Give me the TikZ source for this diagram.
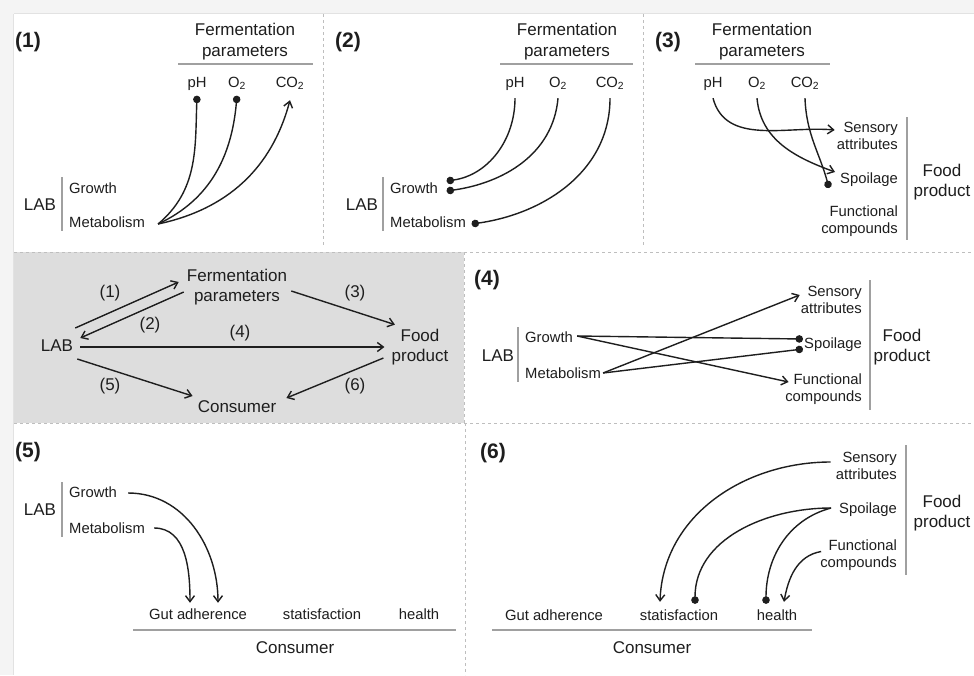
\documentclass[tikz,border=0pt]{standalone}
\usepackage{fontspec}
\setmainfont{Liberation Sans}
\usepackage{xcolor}
\usetikzlibrary{arrows.meta,positioning,calc}

\definecolor{outergray}{RGB}{244,244,244}
\definecolor{edgegray}{RGB}{226,226,226}
\definecolor{panelgray}{RGB}{221,221,221}
\definecolor{dashgray}{RGB}{190,190,190}
\definecolor{rulegray}{RGB}{160,160,160}
\definecolor{inkgray}{RGB}{30,30,30}

\newcommand{\bigtxt}{\fontsize{17}{20.5}\selectfont}
\newcommand{\smalltxt}{\fontsize{14.8}{17}\selectfont}

\begin{document}
\begin{tikzpicture}[
        x=1pt, y=-1pt,
        panelnum/.style={font=\bfseries\fontsize{21}{24}\selectfont, text=inkgray, inner sep=1pt},
        group/.style={font=\bigtxt, text=inkgray, align=center, inner sep=1pt},
        item/.style={font=\smalltxt, text=inkgray, inner sep=1pt},
        param/.style={font=\smalltxt, text=inkgray, inner sep=1pt, text height=11pt, text depth=3pt},
        arrow/.style={draw=inkgray, -{Straight Barb[length=6pt,width=9pt]}, line width=1.4pt},
        dotarrow/.style={draw=inkgray, -{Circle[length=7.5pt]}, line width=1.4pt},
        rulebar/.style={draw=rulegray, line width=1.8pt},
        divider/.style={draw=dashgray, dashed, line width=0.9pt}
    ]
    \useasboundingbox (0,0) rectangle (974,675);

    % Frame and panel dividers
    \fill [outergray] (0,0) rectangle (974,675);
    \fill [white] (14,14) rectangle (974,675);
    \draw [edgegray] (13.5,14) -- (13.5,675);
    \draw [edgegray] (14,13.5) -- (974,13.5);
    \fill [panelgray] (14,252) rectangle (464,423);
    \path [divider] (323,14) -- (323,247);
    \path [divider] (643,14) -- (643,247);
    \path [divider] (14,252) -- (974,252);
    \path [divider] (464,252) -- (464,423);
    \path [divider] (14,423) -- (974,423);
    \path [divider] (465,423) -- (465,675);

    % Panel (1): LAB -> fermentation parameters
    \node [panelnum] (n1) at (28,42) {(1)};
    \node [group] (fp1) at (245,41.5) {Fermentation\\parameters};
    \draw [rulebar] (178,64) -- (313,64);
    \node [param] (ph1) at (197,83) {pH};
    \node [param] (ox1) at (237,83) {O\textsubscript{2}};
    \node [param] (co1) at (290,83) {CO\textsubscript{2}};
    \node [group] (lab1) at (40,205) {LAB};
    \draw [rulebar] (62,177) -- (62,231);
    \node [item, anchor=west] (gr1) at (68,188) {Growth};
    \node [item, anchor=west] (me1) at (68,222) {Metabolism};
    \path [dotarrow] ($(me1.east)+(12,2)$) to[out=40,in=-92] ($(ph1.south)+(0,4.5)$);
    \path [dotarrow] ($(me1.east)+(12,2)$) to[out=25,in=-95] ($(ox1.south)+(0,4.5)$);
    \path [arrow] ($(me1.east)+(12,2)$) to[out=12,in=-105] ($(co1.south)+(0,9)$);

    % Panel (2): fermentation parameters -> LAB
    \node [panelnum] (n2) at (348,42) {(2)};
    \node [group] (fp2) at (567,41.5) {Fermentation\\parameters};
    \draw [rulebar] (500,64) -- (633,64);
    \node [param] (ph2) at (515,83) {pH};
    \node [param] (ox2) at (558,83) {O\textsubscript{2}};
    \node [param] (co2) at (610,83) {CO\textsubscript{2}};
    \node [group] (lab2) at (362,205) {LAB};
    \draw [rulebar] (383,177) -- (383,231);
    \node [item, anchor=west] (gr2) at (389,188) {Growth};
    \node [item, anchor=west] (me2) at (389,222) {Metabolism};
    \path [dotarrow] ($(ph2.south)+(0,7)$) to[out=-90,in=8] ($(gr2.east)+(7.5,-7)$);
    \path [dotarrow] ($(ox2.south)+(0,7)$) to[out=-95,in=8] ($(gr2.east)+(7.5,3)$);
    \path [dotarrow] ($(co2.south)+(0,7)$) to[out=-90,in=8] ($(me2.east)+(4.5,2)$);

    % Panel (3): fermentation parameters -> food product
    \node [panelnum] (n3) at (668,42) {(3)};
    \node [group] (fp3) at (762,41.5) {Fermentation\\parameters};
    \draw [rulebar] (695,64) -- (830,64);
    \node [param] (ph3) at (713,83) {pH};
    \node [param] (ox3) at (757,83) {O\textsubscript{2}};
    \node [param] (co3) at (805,83) {CO\textsubscript{2}};
    \node [item, anchor=east, align=right] (se3) at (899,135.5) {Sensory\\attributes};
    \node [item, anchor=east] (sp3) at (899,180) {Spoilage};
    \node [item, anchor=east, align=right] (fu3) at (899,221.5) {Functional\\compounds};
    \draw [rulebar] (907,117) -- (907,240);
    \node [group] (fd3) at (942,182) {Food\\product};
    \path [arrow] ($(ph3.south)+(0,7)$) to[out=-75,in=175] ($(se3.west)+(-1,-5.5)$);
    \path [arrow] ($(ox3.south)+(0,7)$) to[out=-85,in=160] ($(sp3.west)+(-4,-8)$);
    \path [dotarrow] ($(co3.south)+(0,7)$) to[out=-88,in=105] ($(sp3.west)+(-10,8)$);

    % Overview panel
    \node [group] (fpM) at (237,287) {Fermentation\\parameters};
    \node [group] (labM) at (57,346) {LAB};
    \node [group] (foodM) at (420,347) {Food\\product};
    \node [group] (consM) at (237,407) {Consumer};
    \path [arrow] ($(labM.east)+(1,-18)$) -- ($(fpM.west)+(-7,-5)$);
    \path [arrow] ($(fpM.west)+(-2,5)$) -- ($(labM.east)+(6,-8)$);
    \path [arrow] ($(fpM.east)+(3,4)$) -- ($(foodM.north west)+(4.5,-3)$);
    \path [arrow] ($(labM.east)+(6,1)$) -- ($(foodM.west)+(-6,0)$);
    \path [arrow] ($(labM.east)+(3,13)$) -- ($(consM.west)+(-4,-11)$);
    \path [arrow] ($(foodM.west)+(-7,11)$) -- ($(consM.east)+(9,-9)$);
    \node [group] (l1) at (110,293) {(1)};
    \node [group] (l2) at (150,325) {(2)};
    \node [group] (l3) at (355,293) {(3)};
    \node [group] (l4) at (240,333) {(4)};
    \node [group] (l5) at (110,386) {(5)};
    \node [group] (l6) at (355,386) {(6)};

    % Panel (4): LAB -> food product
    \node [panelnum] (n4) at (487,280) {(4)};
    \node [group] (lab4) at (498,356) {LAB};
    \draw [rulebar] (518,327) -- (518,382);
    \node [item, anchor=west] (gr4) at (524,337) {Growth};
    \node [item, anchor=west] (me4) at (524,373) {Metabolism};
    \node [item, anchor=east, align=right] (se4) at (863,299.5) {Sensory\\attributes};
    \node [item, anchor=east] (sp4) at (863,345) {Spoilage};
    \node [item, anchor=east, align=right] (fu4) at (863,389.5) {Functional\\compounds};
    \draw [rulebar] (870,280) -- (870,410);
    \node [group] (fd4) at (902,347) {Food\\product};
    \path [dotarrow] ($(gr4.east)+(3,-1)$) -- ($(sp4.west)+(0,-6)$);
    \path [arrow] ($(gr4.east)+(3,-1)$) -- ($(fu4.west)+(4.5,-7.5)$);
    \path [arrow] ($(me4.east)+(1,0)$) -- ($(se4.west)+(0,-4.5)$);
    \path [dotarrow] ($(me4.east)+(1,0)$) -- ($(sp4.west)+(0,4)$);

    % Panel (5): LAB -> consumer
    \node [panelnum] (n5) at (28,452) {(5)};
    \node [group] (lab5) at (40,510) {LAB};
    \draw [rulebar] (62,482) -- (62,537);
    \node [item, anchor=west] (gr5) at (68,492) {Growth};
    \node [item, anchor=west] (me5) at (68,528) {Metabolism};
    \node [param] (gu5) at (198,615) {Gut adherence};
    \node [param] (sa5) at (322,615) {statisfaction};
    \node [param] (he5) at (419,615) {health};
    \draw [rulebar] (133,630) -- (456,630);
    \node [group] (co5) at (295,648) {Consumer};
    \path [arrow] ($(gr5.east)+(10,1)$) to[out=0,in=90] ($(gu5.north)+(20,-4)$);
    \path [arrow] ($(me5.east)+(8,0)$) to[out=0,in=90] ($(gu5.north)+(-8,-4)$);

    % Panel (6): food product -> consumer
    \node [panelnum] (n6) at (493,453) {(6)};
    \node [item, anchor=east, align=right] (se6) at (898,466) {Sensory\\attributes};
    \node [item, anchor=east] (sp6) at (898,510) {Spoilage};
    \node [item, anchor=east, align=right] (fu6) at (898,555.5) {Functional\\compounds};
    \draw [rulebar] (906,445) -- (906,575);
    \node [group] (fd6) at (942,513) {Food\\product};
    \node [param] (gu6) at (554,616) {Gut adherence};
    \node [param] (sa6) at (679,616) {statisfaction};
    \node [param] (he6) at (777,616) {health};
    \draw [rulebar] (492,630) -- (812,630);
    \node [group] (co6) at (652,648) {Consumer};
    \path [arrow] ($(se6.west)+(-4,-4)$) to[out=180,in=88] ($(sa6.north)+(-19,-6)$);
    \path [dotarrow] ($(sp6.west)+(-7,-2)$) to[out=180,in=90] ($(sa6.north)+(16,-4)$);
    \path [dotarrow] ($(sp6.west)+(-7,-2)$) to[out=195,in=90] ($(he6.north)+(-11,-4)$);
    \path [arrow] ($(fu6.west)+(2,-4)$) to[out=190,in=80] ($(he6.north)+(7,-6)$);

\end{tikzpicture}
\end{document}
